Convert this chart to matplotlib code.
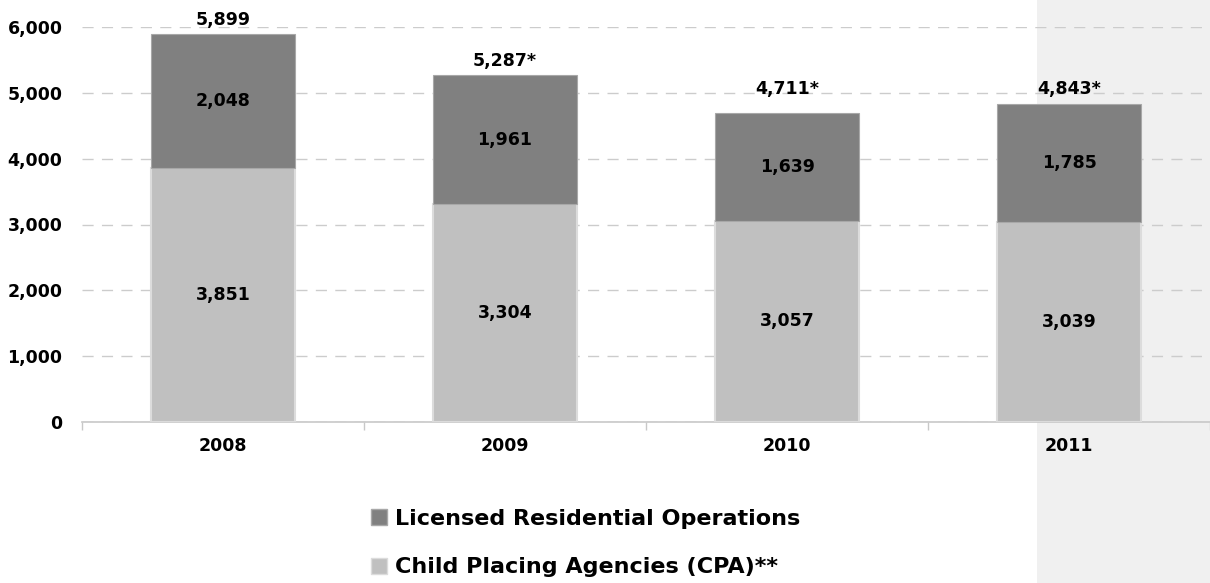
import matplotlib
matplotlib.use("Agg")
import matplotlib.pyplot as plt
from matplotlib.patches import Patch, Rectangle
from matplotlib.transforms import blended_transform_factory

plt.rcParams['font.family'] = ['DejaVu Sans']
plt.rcParams['font.weight'] = 'bold'

# data
tahun = ['2008', '2009', '2010', '2011']
cpa = [3851, 3304, 3057, 3039]
residential = [2048, 1961, 1639, 1785]
label_total = ['5,899', '5,287*', '4,711*', '4,843*']
label_cpa = 'Child Placing Agencies (CPA)**'
label_res = 'Licensed Residential Operations'

WARNA_CPA = '#c0c0c0'
WARNA_RES = '#808080'

fig = plt.figure(figsize=(12.10, 5.83), dpi=100)
ax = fig.add_axes([82 / 1210, 1 - 422 / 583, 1 - 82 / 1210, (422 - 27) / 583])
ax.patch.set_facecolor('none')

x = list(range(len(tahun)))

# latar abu-abu untuk kolom terakhir (sampai bawah gambar)
trans = blended_transform_factory(ax.transData, fig.transFigure)
ax.add_patch(Rectangle((2.887, 0), 1.0, 1.0, transform=trans, facecolor='#f0f0f0',
                       edgecolor='none', zorder=0, clip_on=False))

b1 = ax.bar(x, cpa, width=0.51, color=WARNA_CPA, edgecolor='#dcdcdc', linewidth=1.5, zorder=3)
b2 = ax.bar(x, residential, width=0.51, bottom=cpa, color=WARNA_RES,
            edgecolor='#a8a8a8', linewidth=0.8, zorder=3)

for i in x:
    ax.text(i, cpa[i] / 2, f'{cpa[i]:,}', ha='center', va='center', fontsize=12.5, zorder=4)
    ax.text(i, cpa[i] + residential[i] / 2, f'{residential[i]:,}', ha='center', va='center',
            fontsize=12.5, zorder=4)

offset_total = [10, 10, 17, 11]
for i in x:
    ax.annotate(label_total[i], (i, cpa[i] + residential[i]), xytext=(0, offset_total[i]),
                textcoords='offset points', ha='center', va='center', fontsize=12.5, zorder=4)

ax.set_xlim(-0.5, 3.5)
ax.set_ylim(0, 6000)
ax.set_yticks(range(0, 6001, 1000))
ax.set_yticklabels([f'{v:,}' for v in range(0, 6001, 1000)])
ax.set_xticks(x)
ax.set_xticklabels(tahun)
ax.tick_params(axis='both', which='major', length=0, labelsize=12.5)
ax.tick_params(axis='x', pad=11)
ax.tick_params(axis='y', pad=14)
ax.set_xticks([-0.5, 0.5, 1.5, 2.5, 3.5], minor=True)
ax.tick_params(axis='x', which='minor', length=6, color='#c8c8c8', width=1)

ax.yaxis.grid(True, linestyle=(0, (8, 6)), color='#cccccc', linewidth=1, zorder=1)
ax.set_axisbelow(True)
for s in ['top', 'right', 'left']:
    ax.spines[s].set_visible(False)
ax.spines['bottom'].set_color('#c8c8c8')
ax.spines['bottom'].set_linewidth(1.2)

handles = [Patch(facecolor=WARNA_RES, edgecolor='#a8a8a8'), Patch(facecolor=WARNA_CPA, edgecolor='#dcdcdc')]
fig.legend(handles, [label_res, label_cpa], loc='center', bbox_to_anchor=(0.484, 1 - 543 / 583),
           frameon=False, fontsize=16, handlelength=0.75, handleheight=0.75, handletextpad=0.35,
           labelspacing=1.3)

fig.savefig('out.png', dpi=100)
